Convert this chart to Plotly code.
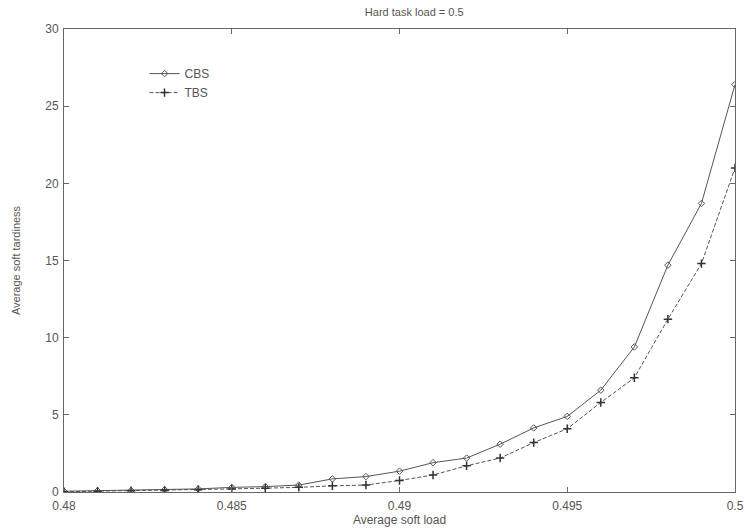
import plotly.graph_objects as go

soft_load = [0.480, 0.481, 0.482, 0.483, 0.484, 0.485, 0.486, 0.487, 0.488, 0.489, 0.490,
             0.491, 0.492, 0.493, 0.494, 0.495, 0.496, 0.497, 0.498, 0.499, 0.500]
cbs = [0.05, 0.08, 0.1, 0.15, 0.2, 0.3, 0.35, 0.45, 0.85, 1.0, 1.35,
       1.9, 2.2, 3.1, 4.15, 4.9, 6.6, 9.4, 14.7, 18.7, 26.4]
tbs = [0.02, 0.05, 0.08, 0.1, 0.15, 0.2, 0.25, 0.3, 0.4, 0.45, 0.75,
       1.1, 1.7, 2.2, 3.2, 4.1, 5.8, 7.4, 11.2, 14.8, 21.0]
x_ticks = [0.48, 0.485, 0.49, 0.495, 0.5]
x_tick_labels = ["0.48", "0.485", "0.49", "0.495", "0.5"]
y_ticks = [0, 5, 10, 15, 20, 25, 30]

fig = go.Figure()
fig.add_trace(go.Scatter(x=soft_load, y=cbs, name="CBS", mode="lines+markers",
                         line=dict(color="#555555", width=1),
                         marker=dict(symbol="diamond-open", size=5, color="#555555",
                                     line=dict(width=1))))
fig.add_trace(go.Scatter(x=soft_load, y=tbs, name="TBS", mode="lines+markers",
                         line=dict(color="#555555", width=1, dash="4px,2px"),
                         marker=dict(symbol="cross-thin-open", size=6, color="#333333",
                                     line=dict(width=1.5, color="#333333"))))

axis_common = dict(showgrid=False, zeroline=False, showline=True, linecolor="#666666",
                   linewidth=1, mirror="ticks", ticks="inside", ticklen=5,
                   tickcolor="#666666", tickfont=dict(size=12, color="#555555"),
                   automargin=False)

fig.update_layout(
    width=745, height=529,
    margin=dict(l=64, r=10, t=29, b=37),
    paper_bgcolor="white", plot_bgcolor="white",
    font=dict(family="Liberation Sans, Arial, sans-serif", size=11, color="#555555"),
    title=dict(text="Hard task load = 0.5", x=0.556, xanchor="center", y=0.985,
               yanchor="top", font=dict(size=11, color="#555555")),
    xaxis=dict(range=[0.48, 0.5], tickvals=x_ticks, ticktext=x_tick_labels,
               ticklabelstandoff=3,
               title=dict(text="Average soft load", standoff=0, font=dict(size=12)),
               **axis_common),
    yaxis=dict(range=[0, 30], tickvals=y_ticks, ticklabelstandoff=2,
               title=dict(text="Average soft tardiness", standoff=22, font=dict(size=11)),
               **axis_common),
    legend=dict(x=0.12, y=0.935, xanchor="left", yanchor="top", bgcolor="rgba(0,0,0,0)",
                font=dict(size=12, color="#555555"), tracegroupgap=0, itemwidth=30),
    showlegend=True,
)

fig.write_html("out.html")
